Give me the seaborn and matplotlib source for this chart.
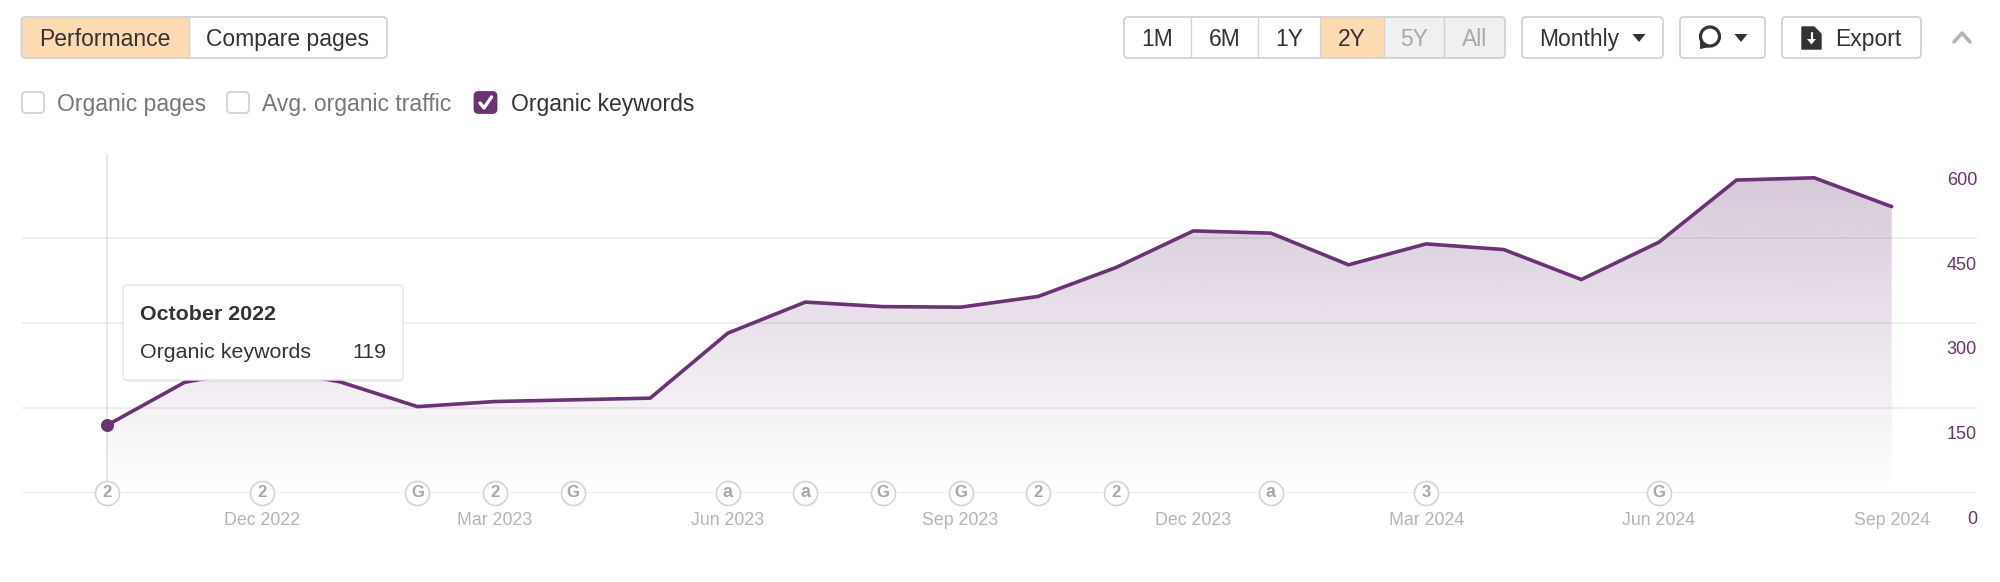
"""Organic keywords panel: monthly area chart plus the toolbar around it."""

import numpy as np
import pandas as pd
import matplotlib.pyplot as plt
import seaborn as sns
from matplotlib.patches import FancyBboxPatch, Rectangle, Polygon, Circle
from matplotlib.transforms import ScaledTranslation

months = ['Oct 2022', 'Nov 2022', 'Dec 2022', 'Jan 2023', 'Feb 2023', 'Mar 2023',
          'Apr 2023', 'May 2023', 'Jun 2023', 'Jul 2023', 'Aug 2023', 'Sep 2023',
          'Oct 2023', 'Nov 2023', 'Dec 2023', 'Jan 2024', 'Feb 2024', 'Mar 2024',
          'Apr 2024', 'May 2024', 'Jun 2024', 'Jul 2024', 'Aug 2024', 'Sep 2024']
keywords = [119, 195, 221, 196, 152, 161, 164, 167, 282, 337, 329, 328,
            347, 398, 463, 459, 403, 440, 430, 377, 443, 553, 557, 506]
x_labels = ['Dec 2022', 'Mar 2023', 'Jun 2023', 'Sep 2023',
            'Dec 2023', 'Mar 2024', 'Jun 2024', 'Sep 2024']
y_ticks = [0, 150, 300, 450, 600]
event_months = ['Oct 2022', 'Dec 2022', 'Feb 2023', 'Mar 2023', 'Apr 2023', 'Jun 2023', 'Jul 2023',
                'Aug 2023', 'Sep 2023', 'Oct 2023', 'Nov 2023', 'Jan 2024', 'Mar 2024', 'Jun 2024']
event_marks = ['2', '2', 'G', '2', 'G', 'a', 'a', 'G', 'G', '2', '2', 'a', '3', 'G']

PURPLE = '#6a3373'
ORANGE = '#fddab2'
BORDER = '#d2d2d2'
DARK = '#333333'
W, H = 2000, 582

sns.set_theme(style='white')
plt.rcParams['font.family'] = ['Liberation Sans', 'DejaVu Sans']

df = pd.DataFrame({'month': months, 'keywords': keywords})
df['pos'] = np.arange(len(df))

fig = plt.figure(figsize=(W / 100, H / 100), dpi=100, facecolor='white')

# chart axes, grid runs 21.5..1977 px across and 153.5..492.5 px down
ax = fig.add_axes([21.5 / W, 1 - 492.5 / H, (1977 - 21.5) / W, 339 / H])
ax.patch.set_alpha(0)
per_month = (1891.7 - 107) / 23
ax.set_xlim(-(107 - 21.5) / per_month, 23 + (1977 - 1891.7) / per_month)
ax.set_ylim(0, 600)
sns.despine(ax=ax, left=True, bottom=True)

ax.set_yticks(y_ticks)
ax.set_yticklabels(y_ticks)
ax.yaxis.tick_right()
ax.tick_params(axis='y', length=0, pad=0, labelsize=13, labelcolor=PURPLE)
ax.grid(axis='y', color='#e9e9e9', linewidth=1.1)
ax.set_axisbelow(True)
for lab in ax.get_yticklabels():
    lab.set_ha('right')
    lab.set_transform(lab.get_transform() + ScaledTranslation(0, -25 / 100, fig.dpi_scale_trans))

ax.set_xticks([months.index(m) for m in x_labels])
ax.set_xticklabels(x_labels)
ax.tick_params(axis='x', length=0, pad=14, labelsize=12.8, labelcolor='#b4b4b4')

# hover crosshair
ax.axvline(0, color='#e2e2e2', linewidth=1.1, zorder=1)

# gradient under the line
area = ax.fill_between(df['pos'], df['keywords'], 0, facecolor='none', edgecolor='none')
grad = np.zeros((256, 1, 4))
grad[..., :3] = (0x6a / 255, 0x33 / 255, 0x73 / 255)
grad[..., 3] = np.linspace(0.29, 0.0, 256)[:, None]
xlim = ax.get_xlim()
img = ax.imshow(grad, extent=[xlim[0], xlim[1], 0, 600], aspect='auto', origin='upper', zorder=2)
img.set_clip_path(area.get_paths()[0], transform=ax.transData)
ax.set_xlim(xlim)
ax.set_ylim(0, 600)

sns.lineplot(data=df, x='pos', y='keywords', ax=ax, color=PURPLE, linewidth=2.6, zorder=3,
             errorbar=None)
ax.set_xlabel('')
ax.set_ylabel('')
ax.scatter([0], [keywords[0]], s=88, color=PURPLE, zorder=4, linewidths=0)

# annotation badges on the baseline
for m, mark in zip(event_months, event_marks):
    ax.scatter([months.index(m)], [0], s=300, facecolor='white', edgecolor='#d4d4d4',
               linewidths=1.2, zorder=5, clip_on=False)
    ax.text(months.index(m), 0, mark, ha='center', va='center', fontsize=13 if mark == 'a' else 12,
            color='#a8a8a8', fontweight='bold', zorder=6, clip_on=False)

# toolbar and tooltip are drawn in pixel coordinates on top
ui = fig.add_axes([0, 0, 1, 1], zorder=10)
ui.set_xlim(0, W)
ui.set_ylim(H, 0)
ui.axis('off')
ui.patch.set_alpha(0)


def box(x0, x1, y0, y1, face='white', edge=BORDER, lw=1.3, r=4, z=2):
    p = FancyBboxPatch((x0, y0), x1 - x0, y1 - y0, boxstyle=f'round,pad=0,rounding_size={r}',
                       facecolor=face, edgecolor=edge, linewidth=lw, zorder=z)
    ui.add_patch(p)
    return p


def label(x, y, s, color=DARK, size=16.5, ha='center', weight='normal'):
    ui.text(x, y, s, color=color, fontsize=size, ha=ha, va='center_baseline',
            fontweight=weight, zorder=6)


def segments(edges, y0, y1, fills):
    # one rounded button group, with coloured cells clipped to the outline
    outline = box(edges[0], edges[-1], y0, y1, face='white', edge='none', lw=0, z=2)
    for i, face in enumerate(fills):
        if face is None:
            continue
        r = Rectangle((edges[i], y0), edges[i + 1] - edges[i], y1 - y0, facecolor=face,
                      edgecolor='none', zorder=3)
        ui.add_patch(r)
        r.set_clip_path(outline)
    for e in edges[1:-1]:
        ui.plot([e, e], [y0, y1], color=BORDER, linewidth=1.0, zorder=4)
    box(edges[0], edges[-1], y0, y1, face='none', z=5)


def tri(cx, cy, w=13, h=8, color=DARK):
    ui.add_patch(Polygon([(cx - w / 2, cy - h / 2), (cx + w / 2, cy - h / 2), (cx, cy + h / 2)],
                         facecolor=color, edgecolor='none', zorder=6))


y0, y1 = 17, 58
segments([21.5, 189, 387], y0, y1, [ORANGE, None])
label(105, 37, 'Performance')
label(288, 37, 'Compare pages')

segments([1124, 1191, 1258, 1320, 1384, 1444, 1505], y0, y1,
         [None, None, None, ORANGE, '#eff0f2', '#eff0f2'])
for cx, s, c in zip([1157.5, 1224.5, 1289, 1352, 1414, 1474.5],
                    ['1M', '6M', '1Y', '2Y', '5Y', 'All'],
                    [DARK, DARK, DARK, DARK, '#a9a9a9', '#a9a9a9']):
    label(cx, 37, s, color=c)

box(1522, 1663, y0, y1)
label(1539, 37, 'Monthly', ha='left')
tri(1639, 38)

box(1680, 1765, y0, y1)
ui.add_patch(Circle((1710, 36.5), 9.5, facecolor='white', edgecolor=DARK, linewidth=2.3, zorder=6))
ui.add_patch(Polygon([(1700, 40), (1700, 49), (1710, 47)], facecolor=DARK, edgecolor='none', zorder=6))
tri(1741, 38)

box(1782, 1921, y0, y1)
ui.add_patch(Polygon([(1802, 27), (1814, 27), (1821, 34), (1821, 49), (1802, 49)],
                     facecolor=DARK, edgecolor=DARK, linewidth=1, joinstyle='round', zorder=6))
ui.plot([1811.5, 1811.5], [33, 41], color='white', linewidth=1.6, zorder=7)
ui.add_patch(Polygon([(1807, 39), (1816, 39), (1811.5, 44.5)], facecolor='white', edgecolor='none', zorder=7))
label(1835, 37, 'Export', ha='left')

ui.plot([1954, 1962, 1970], [42, 33, 42], color='#b5b5b5', linewidth=2.6, zorder=6)

# series checkboxes
for bx0, tx, s, on in [(22, 57, 'Organic pages', False),
                       (227, 262.5, 'Avg. organic traffic', False),
                       (474.5, 511, 'Organic keywords', True)]:
    box(bx0, bx0 + 22, 92, 113, face=PURPLE if on else 'white', edge=PURPLE if on else BORDER, r=4)
    label(tx, 102, s, color=DARK if on else '#777777', ha='left')
ui.plot([480, 484, 491.5], [103, 108, 97], color='white', linewidth=2.4, zorder=6)

# tooltip
box(124, 404, 286, 382, face='#000000', edge='none', lw=0, z=7).set_alpha(0.06)
box(123, 403, 285, 380, face='white', edge='#e6e6e6', lw=1, z=8)
ui.text(140, 313, 'October 2022', color=DARK, fontsize=15.4, fontweight='bold', va='center_baseline', zorder=9)
ui.text(140, 350, 'Organic keywords', color=DARK, fontsize=15.4, va='center_baseline', zorder=9)
ui.text(386, 350, str(keywords[0]), color=DARK, fontsize=15.4, ha='right', va='center_baseline', zorder=9)

fig.savefig('out.png', dpi=100)
